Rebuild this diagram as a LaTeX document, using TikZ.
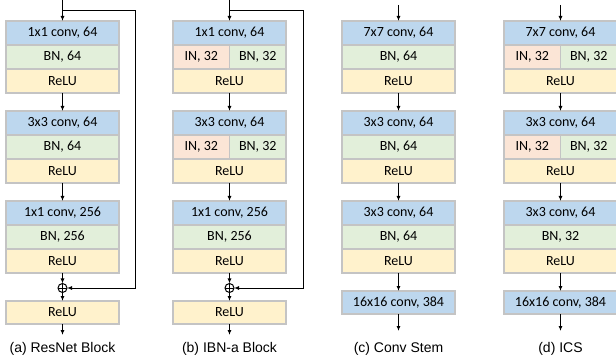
\documentclass[tikz,border=0pt]{standalone}
\usepackage{fontspec}
\setmainfont{Carlito}
\newfontfamily\capfont{Liberation Sans}
\usetikzlibrary{positioning,arrows.meta}
\definecolor{convblue}{HTML}{BDD7EE}
\definecolor{bngreen}{HTML}{E2EFDA}
\definecolor{inpink}{HTML}{FBE5D6}
\definecolor{reluyellow}{HTML}{FFF2CC}
\definecolor{cellgray}{HTML}{C4C4C4}
\tikzstyle{cell} = [draw=cellgray, line width=1.2pt, rectangle, inner sep=0pt, outer sep=0pt, minimum height=24pt, minimum width=113pt, align=center, font={\fontsize{14}{16}\selectfont}]
\tikzstyle{convbox} = [cell, fill=convblue]
\tikzstyle{bnbox} = [cell, fill=bngreen]
\tikzstyle{relubox} = [cell, fill=reluyellow]
\tikzstyle{inhalf} = [cell, fill=inpink, minimum width=56.5pt]
\tikzstyle{bnhalf} = [cell, fill=bngreen, minimum width=56.5pt]
\tikzstyle{plus} = [draw, circle, line width=1pt, minimum size=9pt, inner sep=0pt, outer sep=0pt,
  path picture={\draw[line width=1pt] (path picture bounding box.north) -- (path picture bounding box.south) (path picture bounding box.west) -- (path picture bounding box.east);}]
\tikzstyle{caption} = [font={\capfont\fontsize{14}{16}\selectfont}]

\begin{document}
\begin{tikzpicture}[x=1pt, y=1pt, >={Latex[length=5pt,width=4pt]}, line width=1pt]
    \useasboundingbox (0,0) rectangle (616,-358);
    % (a) ResNet block
    \node [convbox] (a1c) at (62.5,-33) {1x1 conv, 64};
    \node [bnbox, below=0pt of a1c] (a1b) {BN, 64};
    \node [relubox, below=0pt of a1b] (a1r) {ReLU};
    \node [convbox] (a2c) at (62.5,-123) {3x3 conv, 64};
    \node [bnbox, below=0pt of a2c] (a2b) {BN, 64};
    \node [relubox, below=0pt of a2b] (a2r) {ReLU};
    \node [convbox] (a3c) at (62.5,-213) {1x1 conv, 256};
    \node [bnbox, below=0pt of a3c] (a3b) {BN, 256};
    \node [relubox, below=0pt of a3b] (a3r) {ReLU};
    \node [plus] (aplus) at (62.5,-288) {};
    \node [relubox, minimum height=23pt] (a4r) at (62.5,-312.5) {ReLU};
    \coordinate (ain) at (62.5,0);
    \coordinate (askip) at (62.5,-11);
    \coordinate (aright) at (135,-11);
    \coordinate (aout) at (62.5,-335);
    \node [caption] (acap) at (62.5,-348.5) {(a) ResNet Block};
    \draw [->] (ain) -- (a1c);
    \draw [->] (a1r) -- (a2c);
    \draw [->] (a2r) -- (a3c);
    \draw [->] (a3r) -- (aplus);
    \draw [->] (aplus) -- (a4r);
    \draw [->] (a4r) -- (aout);
    \draw [->] (askip) -- (aright) |- (aplus);

    % (b) IBN-a block
    \node [convbox] (b1c) at (229.5,-33) {1x1 conv, 64};
    \node [inhalf, anchor=north west] (b1i) at (b1c.south west) {IN, 32};
    \node [bnhalf, anchor=north east] (b1b) at (b1c.south east) {BN, 32};
    \node [relubox, anchor=north] (b1r) at (b1c.south |- b1i.south) {ReLU};
    \node [convbox] (b2c) at (229.5,-123) {3x3 conv, 64};
    \node [inhalf, anchor=north west] (b2i) at (b2c.south west) {IN, 32};
    \node [bnhalf, anchor=north east] (b2b) at (b2c.south east) {BN, 32};
    \node [relubox, anchor=north] (b2r) at (b2c.south |- b2i.south) {ReLU};
    \node [convbox] (b3c) at (229.5,-213) {1x1 conv, 256};
    \node [bnbox, below=0pt of b3c] (b3b) {BN, 256};
    \node [relubox, below=0pt of b3b] (b3r) {ReLU};
    \node [plus] (bplus) at (229.5,-288) {};
    \node [relubox, minimum height=23pt] (b4r) at (229.5,-312.5) {ReLU};
    \coordinate (bin) at (229.5,0);
    \coordinate (bskip) at (229.5,-11);
    \coordinate (bright) at (303,-11);
    \coordinate (bout) at (229.5,-335);
    \node [caption] (bcap) at (229.5,-348.5) {(b) IBN-a Block};
    \draw [->] (bin) -- (b1c);
    \draw [->] (b1r) -- (b2c);
    \draw [->] (b2r) -- (b3c);
    \draw [->] (b3r) -- (bplus);
    \draw [->] (bplus) -- (b4r);
    \draw [->] (b4r) -- (bout);
    \draw [->] (bskip) -- (bright) |- (bplus);

    % (c) Conv stem
    \node [convbox] (c1c) at (398.5,-33) {7x7 conv, 64};
    \node [bnbox, below=0pt of c1c] (c1b) {BN, 64};
    \node [relubox, below=0pt of c1b] (c1r) {ReLU};
    \node [convbox] (c2c) at (398.5,-123) {3x3 conv, 64};
    \node [bnbox, below=0pt of c2c] (c2b) {BN, 64};
    \node [relubox, below=0pt of c2b] (c2r) {ReLU};
    \node [convbox] (c3c) at (398.5,-213) {3x3 conv, 64};
    \node [bnbox, below=0pt of c3c] (c3b) {BN, 64};
    \node [relubox, below=0pt of c3b] (c3r) {ReLU};
    \node [convbox, minimum height=23pt] (c4c) at (398.5,-302.5) {16x16 conv, 384};
    \coordinate (cin) at (398.5,-5);
    \coordinate (cout) at (398.5,-331);
    \node [caption] (ccap) at (398.5,-348.5) {(c) Conv Stem};
    \draw [->] (cin) -- (c1c);
    \draw [->] (c1r) -- (c2c);
    \draw [->] (c2r) -- (c3c);
    \draw [->] (c3r) -- (c4c);
    \draw [->] (c4c) -- (cout);

    % (d) ICS
    \node [convbox] (d1c) at (560.5,-33) {7x7 conv, 64};
    \node [inhalf, anchor=north west] (d1i) at (d1c.south west) {IN, 32};
    \node [bnhalf, anchor=north east] (d1b) at (d1c.south east) {BN, 32};
    \node [relubox, anchor=north] (d1r) at (d1c.south |- d1i.south) {ReLU};
    \node [convbox] (d2c) at (560.5,-123) {3x3 conv, 64};
    \node [inhalf, anchor=north west] (d2i) at (d2c.south west) {IN, 32};
    \node [bnhalf, anchor=north east] (d2b) at (d2c.south east) {BN, 32};
    \node [relubox, anchor=north] (d2r) at (d2c.south |- d2i.south) {ReLU};
    \node [convbox] (d3c) at (560.5,-213) {3x3 conv, 64};
    \node [bnbox, below=0pt of d3c] (d3b) {BN, 32};
    \node [relubox, below=0pt of d3b] (d3r) {ReLU};
    \node [convbox, minimum height=23pt] (d4c) at (560.5,-302.5) {16x16 conv, 384};
    \coordinate (din) at (560.5,-5);
    \coordinate (dout) at (560.5,-331);
    \node [caption] (dcap) at (560.5,-348.5) {(d) ICS};
    \draw [->] (din) -- (d1c);
    \draw [->] (d1r) -- (d2c);
    \draw [->] (d2r) -- (d3c);
    \draw [->] (d3r) -- (d4c);
    \draw [->] (d4c) -- (dout);
\end{tikzpicture}
\end{document}
